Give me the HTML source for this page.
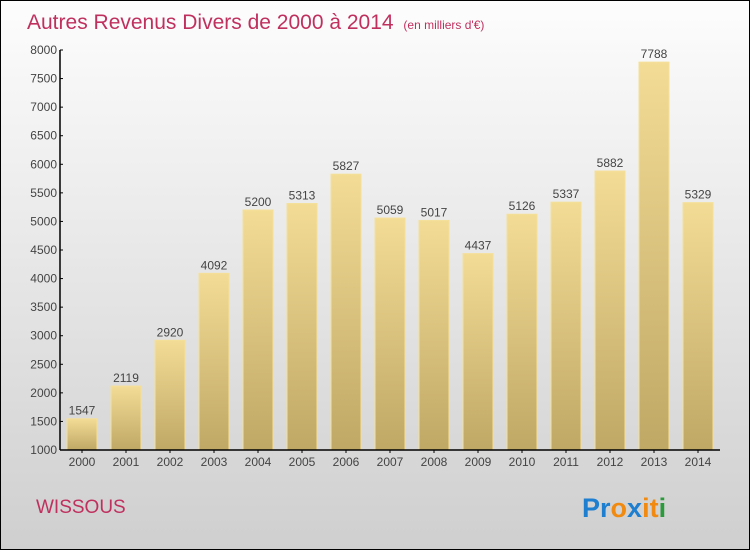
<!DOCTYPE html>
<html><head><meta charset="utf-8"><style>
body{margin:0}
#c{position:relative;width:748px;height:548px;border:1px solid #000;background:linear-gradient(#fdfdfd,#cfcfcf);font-family:"Liberation Sans",sans-serif;overflow:hidden}
</style></head><body>
<div id="c">
<svg width="748" height="548" viewBox="1 1 748 548" style="position:absolute;left:0;top:0">
<defs><linearGradient id="g" x1="0" y1="0" x2="0" y2="1"><stop offset="0" stop-color="#f3dc95"/><stop offset="1" stop-color="#bfa865"/></linearGradient></defs>
<text x="27" y="29" font-size="21" fill="#c0305f">Autres Revenus Divers de 2000 à 2014 <tspan font-size="12" dx="4">(en milliers d'€)</tspan></text>
<g id="yax"></g>
<g id="bars"></g>
<g id="xax"></g>
<text x="36" y="513" font-size="19" fill="#c0305f">WISSOUS</text>
<g font-size="27" font-weight="bold" font-family="Liberation Sans,sans-serif">
<text x="582" y="517"><tspan fill="#1e7fd0">Pr</tspan><tspan fill="#f08a10">o</tspan><tspan fill="#1e7fd0">x</tspan><tspan fill="#f08a10">i</tspan><tspan fill="#f08a10">t</tspan><tspan fill="#2a9a3a">i</tspan></text></g>
</svg></div>
<script>
const years=["2000","2001","2002","2003","2004","2005","2006","2007","2008","2009","2010","2011","2012","2013","2014"];
const values=[1547,2119,2920,4092,5200,5313,5827,5059,5017,4437,5126,5337,5882,7788,5329];
const yTicks=[1000,1500,2000,2500,3000,3500,4000,4500,5000,5500,6000,6500,7000,7500,8000];
const NS="http://www.w3.org/2000/svg";
const x0=60,x1=720,yTop=50,yBot=450,vMin=1000,vMax=8000;
const step=(x1-x0)/years.length;
const y=v=>yBot-(v-vMin)/(vMax-vMin)*(yBot-yTop);
function mk(t,a,p,txt){const e=document.createElementNS(NS,t);for(const k in a)e.setAttribute(k,a[k]);if(txt!=null)e.textContent=txt;p.appendChild(e);return e;}
const yax=document.getElementById('yax'),xax=document.getElementById('xax'),bars=document.getElementById('bars');
mk('line',{x1:x0,y1:yTop,x2:x0,y2:yBot,stroke:'#000','stroke-width':1.5},yax);
yTicks.forEach(t=>{
 mk('line',{x1:x0,y1:y(t),x2:x0+3,y2:y(t),stroke:'#000'},yax);
 const l=mk('text',{x:x0-3,y:y(t)+4,'font-size':12,fill:'#444','text-anchor':'end'},yax,t);
 
 
});
mk('line',{x1:x0,y1:yBot,x2:x1,y2:yBot,stroke:'#000','stroke-width':1.5},xax);
years.forEach((yr,i)=>{
 const cx=x0+step*(i+0.5);
 mk('line',{x1:cx,y1:yBot,x2:cx,y2:yBot+3,stroke:'#000'},xax);
 const l=mk('text',{x:cx,y:yBot+16,'font-size':12,fill:'#444','text-anchor':'middle'},xax,yr);
 
 
 const v=values[i];
 const r=mk('rect',{x:cx-15,y:y(v),width:30,height:yBot-y(v),fill:'url(#g)',stroke:'#f5e09a','stroke-width':1},bars);
 
 
 const vl=mk('text',{x:cx,y:y(v)-4,'font-size':12,fill:'#444','text-anchor':'middle'},bars,v);
 
 
});
</script>
</body></html>
